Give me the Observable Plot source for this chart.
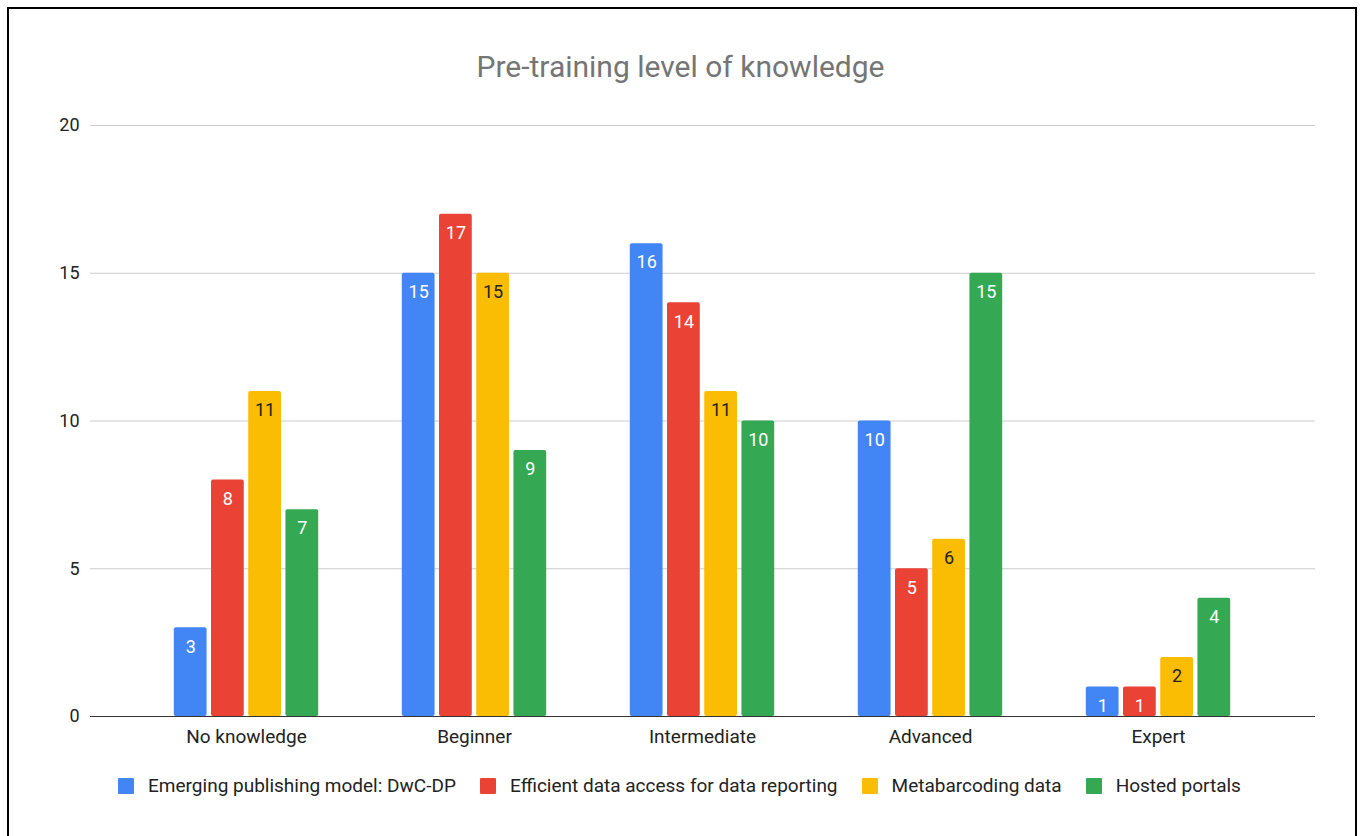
<!DOCTYPE html>
<html>
<head>
<meta charset="utf-8">
<script src="https://cdn.jsdelivr.net/npm/d3@7"></script>
<script src="https://cdn.jsdelivr.net/npm/@observablehq/plot@0.6"></script>
<style>
  html, body { margin: 0; padding: 0; background: #fff; }
  body { width: 1361px; height: 836px; position: relative; overflow: hidden; font-family: Roboto, "Liberation Sans", Arial, sans-serif; }
  #frame { position: absolute; left: 7px; top: 7px; width: 1350px; height: 860px; border: 2px solid #000; box-sizing: border-box; }
  #title { position: absolute; left: 0; width: 1361px; top: 49px; line-height: 36px; text-align: center; font-size: 30px; color: #757575; }
  #chart { position: absolute; left: 0; top: 100px; }
  #chart svg text { font-family: Roboto, "Liberation Sans", sans-serif; }
  #legend { position: absolute; left: 0; width: 1359px; top: 775px; line-height: 22px; display: flex; justify-content: center; align-items: center; font-size: 19px; color: #222; }
  .item { display: flex; align-items: center; margin: 0 12px; }
  .sw { width: 16px; height: 16px; border-radius: 1px; margin-right: 14px; }
</style>
</head>
<body>
<div id="frame"></div>
<div id="title">Pre-training level of knowledge</div>
<div id="chart"></div>
<div id="legend"></div>
<script>
const categories = ["No knowledge", "Beginner", "Intermediate", "Advanced", "Expert"];
const series = ["Emerging publishing model: DwC-DP", "Efficient data access for data reporting", "Metabarcoding data", "Hosted portals"];
const colors = ["#4285f4", "#ea4335", "#fbbc04", "#34a853"];
const labelColors = ["#ffffff", "#ffffff", "#222222", "#ffffff"];
const dwcdp = [3, 15, 16, 10, 1];
const efficient = [8, 17, 14, 5, 1];
const metabarcoding = [11, 15, 11, 6, 2];
const hosted = [7, 9, 10, 15, 4];
const yTicks = [0, 5, 10, 15, 20];

const valuesBySeries = [dwcdp, efficient, metabarcoding, hosted];

const W = 1361, H = 660, ML = 90, MR = 46, MT = 25, MB = 44;
const xPad = 0.35;
const step = (W - ML - MR) / (categories.length - xPad + 2 * xPad);
const band = step * (1 - xPad);
const sub = band / series.length;
const gap = 1.8;

const barMarks = [];
const textMarks = [];
series.forEach((s, j) => {
  const rows = categories.map((c, i) => ({category: c, series: s, value: valuesBySeries[j][i]}));
  barMarks.push(Plot.barY(rows, {
    x: "category", y: "value", fill: colors[j], rx: 2,
    insetLeft: j * sub + gap, insetRight: (series.length - 1 - j) * sub + gap
  }));
  textMarks.push(Plot.text(rows, {
    x: "category", y: "value", text: d => String(d.value), fill: labelColors[j],
    dx: (j - (series.length - 1) / 2) * sub, dy: 19, fontSize: 18
  }));
});

const chart = Plot.plot({
  width: W, height: H,
  marginLeft: ML, marginRight: MR, marginTop: MT, marginBottom: MB,
  style: {fontFamily: "Roboto, sans-serif", fontSize: "18px", color: "#222", background: "transparent"},
  x: {domain: categories, padding: xPad, label: null},
  y: {domain: [0, 20], ticks: yTicks, label: null},
  marks: [
    Plot.ruleY(yTicks.filter(d => d > 0), {stroke: "#cccccc", strokeWidth: 1}),
    Plot.axisY({ticks: yTicks, tickSize: 0, tickPadding: 11, label: null, fontSize: 18, fill: "#222", tickFormat: d => d}),
    Plot.axisX({tickSize: 0, tickPadding: 13, label: null, fontSize: 19, fill: "#222"}),
    ...barMarks,
    Plot.ruleY([0], {stroke: "#333", strokeWidth: 1}),
    ...textMarks
  ]
});
document.getElementById("chart").appendChild(chart);

const legend = document.getElementById("legend");
series.forEach((s, j) => {
  const it = document.createElement("div");
  it.className = "item";
  const sw = document.createElement("div");
  sw.className = "sw";
  sw.style.background = colors[j];
  const t = document.createElement("span");
  t.textContent = s;
  it.appendChild(sw);
  it.appendChild(t);
  legend.appendChild(it);
});
</script>
</body>
</html>
